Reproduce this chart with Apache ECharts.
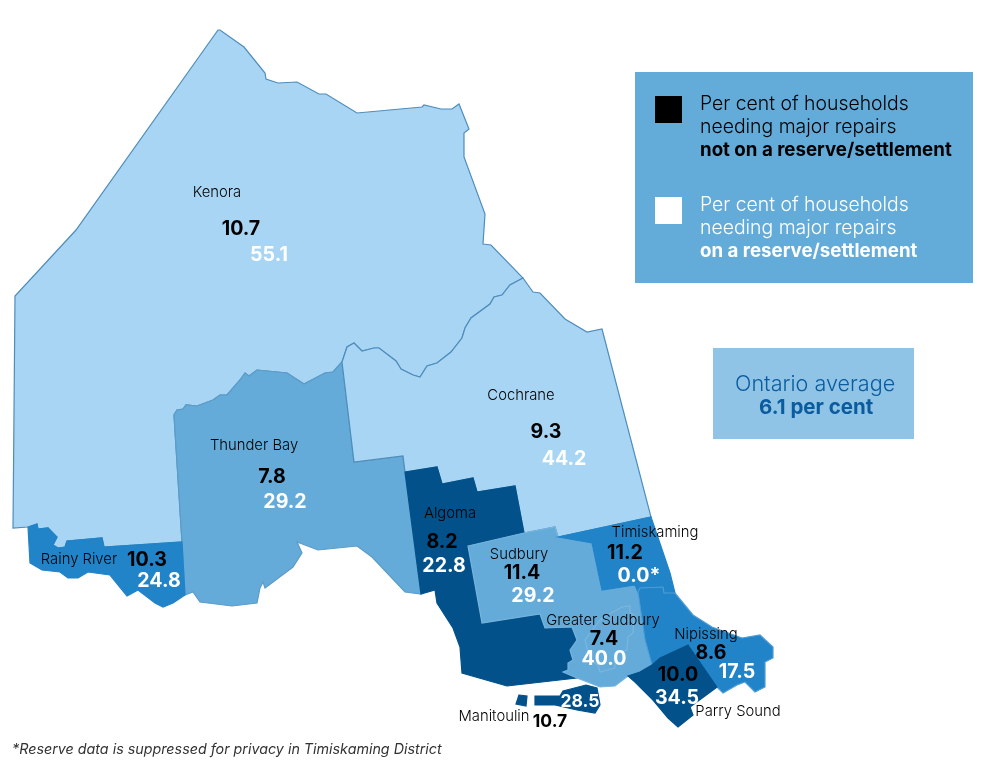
<!DOCTYPE html>
<html>
<head>
<meta charset="utf-8">
<title>Households needing major repairs</title>
<style>
  html, body { margin: 0; padding: 0; background: #fff; }
  #chart { width: 1000px; height: 765px; }
</style>
<script src="https://cdn.jsdelivr.net/npm/echarts@6/dist/echarts.min.js"></script>
</head>
<body>
<div id="chart"></div>
<script>
// values
const districts = ['Kenora', 'Thunder Bay', 'Rainy River', 'Cochrane', 'Algoma', 'Sudbury', 'Timiskaming', 'Greater Sudbury', 'Nipissing', 'Parry Sound', 'Manitoulin'];
const offReserve = [10.7, 7.8, 10.3, 9.3, 8.2, 11.4, 11.2, 7.4, 8.6, 10.0, 10.7];
const onReserve = [55.1, 29.2, 24.8, 44.2, 22.8, 29.2, 0.0, 40.0, 17.5, 34.5, 28.5];
const suppressed = ['Timiskaming'];
const ontarioAverage = 6.1;

// label anchors, same order as districts
const nameAt = [[217, 192], [254, 445], [79, 559], [521, 395], [450, 513], [519, 554], [655, 532], [603, 620], [706, 634], [738, 711], [494, 716]];
const offAt = [[241, 228], [272, 476], [147, 559], [546, 431], [442, 541], [522, 572], [625, 552], [604, 638], [711, 652], [678, 674], [550, 720]];
const onAt = [[269, 254], [285, 501], [159, 580], [564, 458], [444, 565], [533, 595], [639, 575], [604, 658], [737, 671], [677, 697], [580, 700]];

const fills = { light: '#A8D5F4', mid: '#64ABD9', strong: '#2183C8', dark: '#02518A' };
const districtFill = ['light', 'mid', 'strong', 'light', 'dark', 'mid', 'strong', 'mid', 'strong', 'dark', 'dark'];
const districtEdge = ['#4F8DBB', '#5C9CC8', '#2183C8', '#4F8DBB', '#02518A', '#78B4DC', '#2183C8', '#7DB6DC', '#4F9DD6', '#02518A', '#02518A'];

// district outlines, traced in picture pixels
const outlines = {
  'Kenora': [[[218,30],[220,30],[244,47],[265,73],[266,79],[278,83],[297,82],[319,94],[326,94],[357,113],[422,107],[424,105],[441,109],[452,109],[459,104],[469,129],[464,133],[464,157],[485,214],[483,244],[491,245],[523,278],[510,285],[502,295],[494,297],[490,304],[471,318],[465,328],[462,338],[451,352],[437,363],[427,366],[420,377],[413,375],[401,369],[396,361],[379,348],[374,348],[362,351],[354,343],[347,347],[342,362],[333,372],[325,373],[304,384],[287,373],[257,370],[249,376],[245,373],[240,380],[227,395],[220,395],[213,400],[197,406],[186,405],[183,409],[177,410],[174,415],[182,542],[104,547],[102,538],[67,541],[65,547],[58,548],[53,545],[57,537],[48,528],[38,529],[37,524],[28,527],[13,528],[15,296],[76,230]]],
  'Cochrane': [[[523,278],[533,292],[540,293],[565,319],[587,332],[602,329],[651,517],[558,537],[555,527],[524,533],[515,486],[477,492],[473,478],[442,484],[437,467],[405,472],[403,456],[354,462],[342,362],[347,347],[354,343],[362,351],[374,348],[379,348],[396,361],[401,369],[413,375],[420,377],[427,366],[437,363],[451,352],[462,338],[465,328],[471,318],[490,304],[494,297],[502,295],[510,285]]],
  'Thunder Bay': [[[174,415],[177,410],[183,409],[186,405],[197,406],[213,400],[220,395],[227,395],[240,380],[245,373],[249,376],[257,370],[287,373],[304,384],[325,373],[333,372],[342,362],[354,462],[403,456],[405,472],[421,594],[405,592],[372,557],[357,546],[318,550],[297,542],[302,553],[293,567],[265,588],[263,582],[260,588],[257,603],[232,606],[200,602],[193,592],[185,595],[182,542]]],
  'Rainy River': [[[28,527],[37,524],[38,529],[48,528],[57,537],[53,545],[58,548],[65,547],[67,541],[102,538],[104,547],[182,542],[185,595],[173,603],[163,607],[155,603],[138,590],[127,596],[110,575],[88,572],[78,578],[68,578],[60,572],[42,570],[30,563]]],
  'Algoma': [[[405,472],[437,467],[442,484],[473,478],[477,492],[515,486],[524,533],[468,546],[482,623],[540,614],[545,628],[572,627],[577,640],[570,650],[573,660],[568,663],[568,670],[563,672],[577,678],[507,686],[462,673],[460,647],[453,628],[437,603],[435,590],[421,594]]],
  'Sudbury': [[[468,546],[524,533],[555,527],[558,537],[592,543],[602,590],[635,585],[638,592],[645,640],[652,665],[640,672],[628,676],[615,686],[600,687],[577,678],[563,672],[568,670],[568,663],[573,660],[570,650],[577,640],[572,627],[545,628],[540,614],[482,623]]],
  'Timiskaming': [[[558,537],[651,517],[670,573],[675,593],[664,593],[663,587],[640,588],[638,592],[635,585],[602,590],[592,543]]],
  'Greater Sudbury': [[[613,612],[622,607],[630,606],[630,613],[634,615],[633,633],[628,637],[627,650],[615,653],[615,668],[600,672],[598,665],[590,660],[585,640],[600,620]]],
  'Nipissing': [[[638,592],[640,588],[663,587],[664,593],[675,593],[693,615],[712,627],[742,638],[760,635],[773,647],[773,658],[765,662],[765,687],[755,692],[745,682],[737,685],[723,693],[717,687],[697,658],[688,645],[660,658],[652,665],[645,640]]],
  'Parry Sound': [[[652,665],[660,658],[688,645],[697,658],[717,687],[690,707],[693,715],[678,727],[668,718],[653,700],[635,682],[628,676],[640,672]]],
  'Manitoulin': [[[519,695],[527,696],[526,706],[516,704]], [[535,696],[560,696],[563,691],[586,685],[597,688],[600,705],[595,713],[577,710],[555,705],[535,705]]]
};

const legendOff = ['Per cent of households', 'needing major repairs', 'not on a reserve/settlement'];
const legendOn = ['Per cent of households', 'needing major repairs', 'on a reserve/settlement'];
const footnote = '*Reserve data is suppressed for privacy in Timiskaming District';

const FONT = 'Inter, "Noto Sans", sans-serif';
const SMALL_VALUES = ['Manitoulin'];

echarts.registerMap('ontario', {
  type: 'FeatureCollection',
  features: districts.map(name => ({
    type: 'Feature',
    properties: { name },
    geometry: { type: 'MultiPolygon', coordinates: outlines[name].map(ring => [ring.concat([ring[0]])]) }
  }))
});

function labelSeries(name, points, color, size, weight, dy) {
  return {
    name,
    type: 'scatter',
    coordinateSystem: 'geo',
    symbolSize: 0,
    silent: true,
    z: 5,
    itemStyle: { opacity: 1 },
    data: points,
    label: {
      show: true,
      position: 'inside',
      offset: [0, dy],
      formatter: p => p.data.text,
      color,
      opacity: 1,
      fontFamily: FONT,
      fontSize: size,
      fontWeight: weight
    }
  };
}

function valuePoints(values, anchors) {
  return values.map((v, i) => ({
    value: anchors[i],
    text: v.toFixed(1) + (values === onReserve && suppressed.includes(districts[i]) ? '*' : ''),
    label: SMALL_VALUES.includes(districts[i]) ? { fontSize: 17.5 } : undefined
  }));
}

function legendBlock(lines, y, color) {
  return lines.map((line, i) => ({
    type: 'text',
    left: 700,
    top: y + i * 23,
    style: {
      text: line,
      fill: color,
      font: (i === 2 ? '700 18.7px ' : '300 19.4px ') + FONT
    }
  }));
}

const chart = echarts.init(document.getElementById('chart'), null, { renderer: 'canvas' });
chart.setOption({
  animation: false,
  backgroundColor: '#fff',
  geo: {
    map: 'ontario',
    projection: { project: p => p, unproject: p => p },
    boundingCoords: [[0, 0], [1000, 765]],
    left: 0,
    top: 0,
    width: 1000,
    height: 765,
    roam: false,
    silent: true,
    label: { show: false },
    regions: districts.map((name, i) => ({
      name,
      itemStyle: { areaColor: fills[districtFill[i]], borderColor: districtEdge[i], borderWidth: 1.2 }
    }))
  },
  graphic: [
    { type: 'rect', shape: { x: 635, y: 72, width: 338, height: 211 }, style: { fill: '#63ABD9' } },
    { type: 'rect', shape: { x: 655, y: 96, width: 27, height: 27 }, style: { fill: '#000' } },
    { type: 'rect', shape: { x: 655, y: 197, width: 27, height: 27 }, style: { fill: '#fff' } },
    { type: 'rect', shape: { x: 713, y: 348, width: 201, height: 91 }, style: { fill: '#90C4E7' } },
    ...legendBlock(legendOff, 95, '#000'),
    ...legendBlock(legendOn, 196, '#fff'),
    { type: 'text', left: 735, top: 373, style: { text: 'Ontario average', fill: '#0B5C9E', font: '300 21.6px ' + FONT } },
    { type: 'text', left: 759, top: 397, style: { text: ontarioAverage.toFixed(1) + ' per cent', fill: '#0B5C9E', font: '700 20.5px ' + FONT } },
    { type: 'text', left: 12, top: 743, style: { text: footnote, fill: '#333', font: 'italic 14.3px ' + FONT } }
  ],
  series: [
    labelSeries('District', districts.map((name, i) => ({ value: nameAt[i], text: name })), '#000', 14.8, 300, 1),
    labelSeries('Not on a reserve/settlement', valuePoints(offReserve, offAt), '#000', 19.6, 700, 1.5),
    labelSeries('On a reserve/settlement', valuePoints(onReserve, onAt), '#fff', 19.6, 700, 1.5)
  ]
});
</script>
</body>
</html>
